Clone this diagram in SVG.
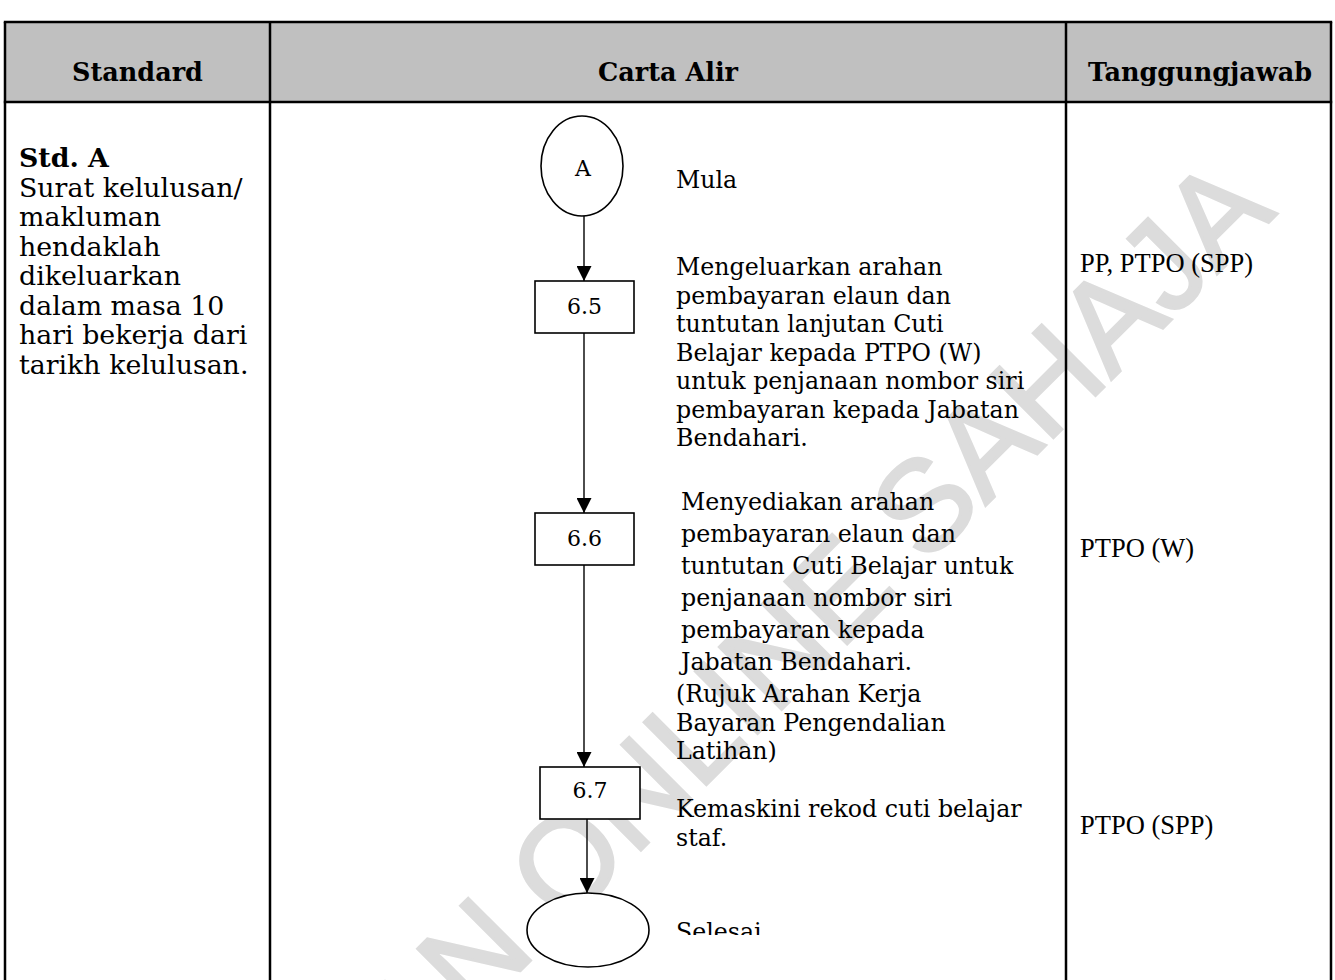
<svg xmlns="http://www.w3.org/2000/svg" width="1335" height="980" viewBox="0 0 1335 980">
<style>
.grid{stroke:#000;stroke-width:2.5;fill:none}
.shape{stroke:#000;stroke-width:1.6;fill:#fff}
.conn{stroke:#000;stroke-width:1.4;fill:none}
.hd{font-family:"DejaVu Serif",serif;font-weight:bold;font-size:25.5px;fill:#000;text-anchor:middle}
.tx{font-family:"DejaVu Serif",serif;font-size:23.7px;fill:#000}
.lt{font-family:"DejaVu Serif",serif;font-size:26.8px;fill:#000}
.num{font-family:"DejaVu Serif",serif;font-size:22px;fill:#000;text-anchor:middle}
.rs{font-family:"Liberation Serif","Times New Roman",serif;font-size:26.5px;fill:#000}
.wm{font-family:"Liberation Sans",Arial,sans-serif;font-size:128px;fill:#dcdcdc;stroke:#dcdcdc;stroke-width:3;text-anchor:middle}
</style>
<defs>
<marker id="ah" viewBox="0 0 10 10" refX="10" refY="5" markerWidth="17" markerHeight="15" markerUnits="userSpaceOnUse" orient="auto">
<path d="M0,0 L10,5 L0,10 z" fill="#000"/>
</marker>
<clipPath id="clipSel"><rect x="600" y="890" width="200" height="45"/></clipPath>
</defs>
<rect width="1335" height="980" fill="#fff"/>
<rect x="5" y="22" width="1326" height="80" fill="#c0c0c0"/>
<text class="wm" transform="translate(714,777) rotate(-45)">SALINAN ONLINE SAHAJA</text>
<g id="table">
<line class="grid" x1="3.8" y1="22" x2="1332.2" y2="22"/>
<line class="grid" x1="3.8" y1="102" x2="1332.2" y2="102"/>
<line class="grid" x1="5" y1="22" x2="5" y2="980"/>
<line class="grid" x1="270" y1="22" x2="270" y2="980"/>
<line class="grid" x1="1066" y1="22" x2="1066" y2="980"/>
<line class="grid" x1="1331" y1="22" x2="1331" y2="980"/>
<text class="hd" x="137.5" y="81">Standard</text>
<text class="hd" x="668" y="81">Carta Alir</text>
<text class="hd" x="1200" y="81">Tanggungjawab</text>
</g>
<g id="standard">
<text class="lt" x="19" y="167" font-weight="bold">Std. A</text>
<text class="lt" x="19" y="196.5">Surat kelulusan/</text>
<text class="lt" x="19" y="226">makluman</text>
<text class="lt" x="19" y="255.5">hendaklah</text>
<text class="lt" x="19" y="285">dikeluarkan</text>
<text class="lt" x="19" y="314.5">dalam masa 10</text>
<text class="lt" x="19" y="344">hari bekerja dari</text>
<text class="lt" x="19" y="373.5">tarikh kelulusan.</text>
</g>
<g id="connectors">
<line class="conn" x1="584" y1="216" x2="584" y2="281" marker-end="url(#ah)"/>
<line class="conn" x1="584" y1="333" x2="584" y2="513" marker-end="url(#ah)"/>
<line class="conn" x1="584" y1="565" x2="584" y2="767" marker-end="url(#ah)"/>
<line class="conn" x1="587" y1="819" x2="587" y2="893" marker-end="url(#ah)"/>
</g>
<g id="nodeA">
<ellipse class="shape" cx="582" cy="166" rx="41" ry="50"/>
<text class="num" x="583" y="176">A</text>
<text class="tx" x="676" y="188">Mula</text>
</g>
<g id="node65">
<rect class="shape" x="535" y="281" width="99" height="52"/>
<text class="num" x="584.5" y="314">6.5</text>
<text class="tx" x="676" y="275">Mengeluarkan arahan</text>
<text class="tx" x="676" y="303.5">pembayaran elaun dan</text>
<text class="tx" x="676" y="332">tuntutan lanjutan Cuti</text>
<text class="tx" x="676" y="360.5">Belajar kepada PTPO (W)</text>
<text class="tx" x="676" y="389">untuk penjanaan nombor siri</text>
<text class="tx" x="676" y="417.5">pembayaran kepada Jabatan</text>
<text class="tx" x="676" y="446">Bendahari.</text>
</g>
<g id="node66">
<rect class="shape" x="535" y="513" width="99" height="52"/>
<text class="num" x="584.5" y="546">6.6</text>
<text class="tx" x="681" y="510">Menyediakan arahan</text>
<text class="tx" x="681" y="542">pembayaran elaun dan</text>
<text class="tx" x="681" y="574">tuntutan Cuti Belajar untuk</text>
<text class="tx" x="681" y="606">penjanaan nombor siri</text>
<text class="tx" x="681" y="638">pembayaran kepada</text>
<text class="tx" x="681" y="670">Jabatan Bendahari.</text>
<text class="tx" x="676" y="702">(Rujuk Arahan Kerja</text>
<text class="tx" x="676" y="730.5">Bayaran Pengendalian</text>
<text class="tx" x="676" y="759">Latihan)</text>
</g>
<g id="node67">
<rect class="shape" x="540" y="767" width="100" height="52"/>
<text class="num" x="590" y="798">6.7</text>
<text class="tx" x="676" y="817">Kemaskini rekod cuti belajar</text>
<text class="tx" x="676" y="846">staf.</text>
</g>
<g id="nodeEnd">
<ellipse class="shape" cx="588" cy="930" rx="61" ry="37"/>
<text class="tx" x="676" y="940" clip-path="url(#clipSel)">Selesai</text>
</g>
<g id="responsibility">
<text class="rs" x="1080" y="272">PP, PTPO (SPP)</text>
<text class="rs" x="1080" y="557">PTPO (W)</text>
<text class="rs" x="1080" y="834">PTPO (SPP)</text>
</g>
</svg>
